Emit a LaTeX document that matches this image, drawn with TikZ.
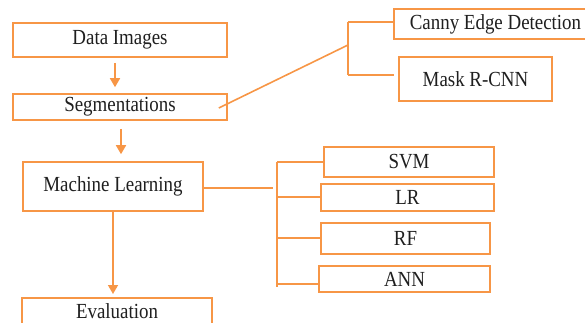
\documentclass[tikz,border=0pt]{standalone}
\usepackage{fontspec}
\setmainfont[FakeStretch=0.88]{Liberation Serif}
\usetikzlibrary{arrows.meta,calc}
\definecolor{flow}{HTML}{F79646}
\begin{document}
\begin{tikzpicture}[x=1pt,y=-1pt,
  label text/.style={font=\fontsize{21.5}{23}\selectfont,text=black!88},
  box/.style={draw=flow,line width=1.6pt,fill=white,inner sep=0pt,label text},
  link/.style={draw=flow,line width=1.6pt},
  arr/.style={link,-{Triangle[width=10pt,length=9pt]}}]
\useasboundingbox (0,0) rectangle (585,323);
\clip (0,0) rectangle (585,323);

% main flow
\node[box,minimum width=214pt,minimum height=34pt] (data) at (120,40) {Data Images};
\node[box,minimum width=214pt,minimum height=26pt] (seg) at (120,107) {Segmentations};
\node[box,minimum width=180pt,minimum height=49pt] (ml) at (113,186.5) {Machine Learning};
\node[box,minimum width=190pt,minimum height=40pt,anchor=north] (eval) at (117,297) {};
\node[label text] (evaltext) at (117,311) {Evaluation};

% segmentation methods
\node[box,minimum width=203pt,minimum height=30pt] (canny) at (495.5,24) {Canny Edge Detection};
\node[box,minimum width=153pt,minimum height=44pt] (mask) at (475.5,79) {Mask R-CNN};

% classifiers
\node[box,minimum width=170pt,minimum height=30pt] (svm) at (409,162) {SVM};
\node[box,minimum width=173pt,minimum height=27pt] (lr) at (407.5,197.5) {LR};
\node[box,minimum width=169pt,minimum height=31pt] (rf) at (405.5,238.5) {RF};
\node[box,minimum width=171pt,minimum height=26pt] (ann) at (404.5,279) {ANN};

% arrows of the main flow
\draw[arr] ($(data.south)+(-5,5)$) -- ($(seg.north)+(-5,-6)$);
\coordinate (a2) at ($(seg.south)+(1,8)$);
\draw[arr] (a2) -- ($(a2 |- ml.north)+(0,-7)$);
\draw[arr] (ml.south) -- ($(eval.north)+(-4,-3)$);

% bracket towards the segmentation methods
\coordinate (sb) at (348,45);
\coordinate (st) at (348,22);
\coordinate (sl) at (348,75);
\draw[link] ($(seg.east)+(-9,1)$) -- (sb);
\draw[link] (st) -- (sl);
\draw[link] (st) -- (canny.west |- st);
\draw[link] (sl) -- ($(mask.west |- sl)+(-4,0)$);

% bracket towards the classifiers
\coordinate (mj) at (273,188);
\coordinate (mt) at (277,162);
\coordinate (mb) at (277,287);
\draw[link] ($(ml.east)+(-2,1.5)$) -- (mj);
\draw[link] (mt) -- (mb);
\draw[link] (mt) -- (svm.west |- mt);
\draw[link] (277,197) -- (lr.west |- 277,197);
\draw[link] (277,238) -- (rf.west |- 277,238);
\draw[link] (277,284) -- (ann.west |- 277,284);
\end{tikzpicture}
\end{document}
